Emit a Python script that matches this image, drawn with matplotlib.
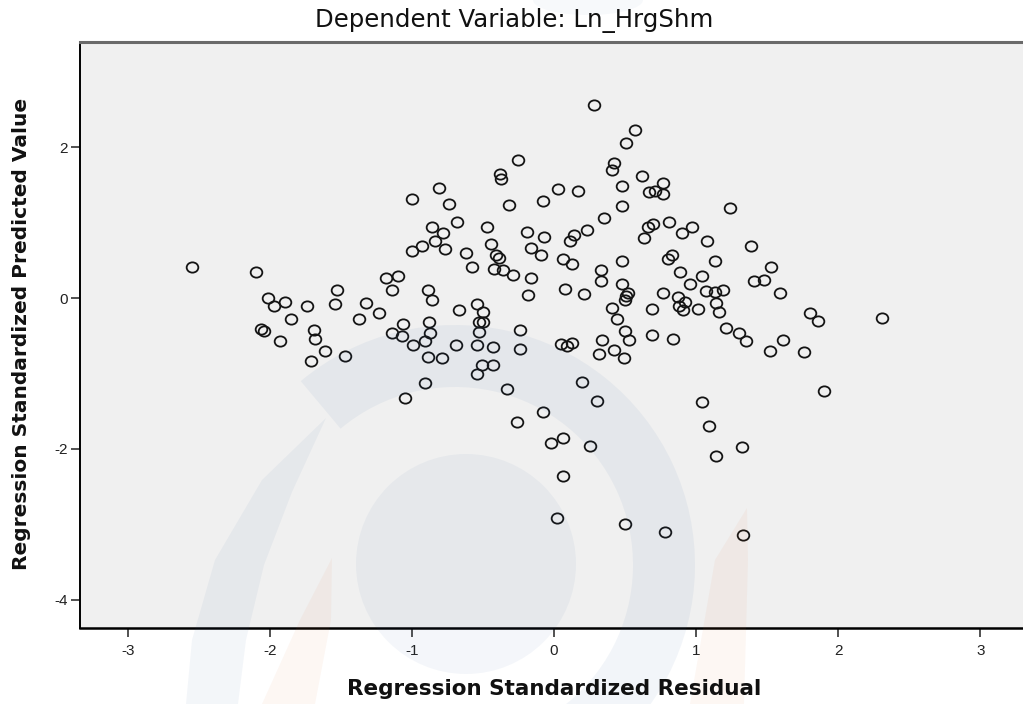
import matplotlib
matplotlib.use("Agg")
import matplotlib.pyplot as plt
import matplotlib.transforms as mtransforms
from matplotlib.path import Path
from matplotlib.patches import Circle, Wedge, Polygon, Ellipse
import numpy as np

plt.rcParams["axes.unicode_minus"] = False

# Regression Standardized Residual (x) / Regression Standardized Predicted Value (y)
resid = [
    -2.55, -2.10, -2.01, -1.97, -1.89, -1.74, -1.85, -2.06, -2.04, -1.93,
    -1.69, -1.68, -1.61, -1.71, -1.47, -1.53, -1.54, -1.32, -1.37, -1.23,
    -1.18, -1.10, -1.14, -1.06, -1.14, -1.07, -1.05, -1.00, -1.00, -0.99,
    -0.93, -0.84, -0.77, -0.89, -0.86, -0.88, -0.87, -0.91, -0.89, -0.79,
    -0.91, -0.81, -0.74, -0.68, -0.86, -0.78,
    0.28, 0.57, 0.51, -0.25, -0.38, -0.37, 0.42, 0.41, 0.62, 0.77,
    0.67, 0.71, 0.77, 0.48, 0.03, 0.17, -0.32, -0.08, 0.48, 1.24,
    0.35, -0.47, -0.19, -0.07, 0.14, 0.11, 0.23, 0.66, 0.70, 0.63,
    0.81, 0.97, 0.90, 1.08, 1.39, -0.62, -0.44, -0.41, -0.39, -0.16,
    -0.09, -0.58, -0.42, -0.36, -0.29, -0.16, 0.06, 0.13, 0.48, 0.33,
    0.33, 0.83, 0.80, 0.89, 1.04, 1.13, 1.53, 1.41, 1.48, 0.96,
    0.08, -0.18, 0.21, 0.48, 0.52, 0.51, 0.50, 0.77, 1.07, 1.13,
    1.19, 1.14, 1.16, 0.87, 0.92, 0.88, 0.91, 1.01, 0.69, 0.41,
    0.44, -0.67, -0.54, -0.50, -0.53, -0.50, -0.53, -0.69, -0.54, -0.43,
    -0.24, -0.24, 0.05, 0.09, 0.13, 0.34, 0.32, 0.50, 0.53, 0.42,
    0.49, 0.69, 0.84, 1.21, 1.30, 1.35, 1.52, -0.51, -0.43,
    1.59, 1.80, 1.86, 2.31, 1.61, 1.76, 1.90, 1.04, 1.09, 1.32,
    1.14, 0.78, 1.33,
    -0.54, -0.33, 0.20, 0.30, -0.08, -0.26, -0.02, 0.06, 0.25, 0.06,
    0.02, 0.50,
]
pred = [
    0.41, 0.34, 0.00, -0.11, -0.05, -0.11, -0.28, -0.41, -0.44, -0.57,
    -0.43, -0.54, -0.70, -0.84, -0.77, 0.11, -0.08, -0.07, -0.28, -0.20,
    0.27, 0.29, 0.10, -0.34, -0.46, -0.50, -1.32, 0.62, 1.31, -0.62,
    0.69, 0.75, 0.65, 0.10, -0.02, -0.32, -0.47, -0.57, -0.78, -0.80,
    -1.13, 1.46, 1.25, 1.01, 0.94, 0.86,
    2.56, 2.23, 2.05, 1.83, 1.64, 1.58, 1.79, 1.69, 1.61, 1.52,
    1.40, 1.42, 1.38, 1.49, 1.45, 1.42, 1.23, 1.29, 1.22, 1.19,
    1.06, 0.94, 0.87, 0.81, 0.83, 0.76, 0.90, 0.94, 0.98, 0.79,
    1.01, 0.94, 0.86, 0.75, 0.69, 0.60, 0.72, 0.57, 0.53, 0.66,
    0.57, 0.41, 0.39, 0.37, 0.30, 0.27, 0.52, 0.45, 0.49, 0.37,
    0.23, 0.57, 0.52, 0.35, 0.29, 0.49, 0.41, 0.22, 0.24, 0.18,
    0.12, 0.04, 0.05, 0.19, 0.07, 0.02, -0.03, 0.06, 0.09, 0.08,
    0.11, -0.06, -0.19, 0.01, -0.05, -0.11, -0.16, -0.15, -0.15, -0.13,
    -0.28, -0.16, -0.08, -0.19, -0.32, -0.32, -0.45, -0.62, -0.62, -0.65,
    -0.43, -0.67, -0.61, -0.63, -0.60, -0.56, -0.74, -0.44, -0.56, -0.69,
    -0.79, -0.49, -0.54, -0.40, -0.46, -0.57, -0.70, -0.89, -0.89,
    0.06, -0.20, -0.30, -0.27, -0.55, -0.71, -1.23, -1.38, -1.70, -1.97,
    -2.09, -3.10, -3.14,
    -1.01, -1.21, -1.11, -1.37, -1.51, -1.64, -1.92, -1.85, -1.96, -2.36,
    -2.92, -3.00,
]
xticks = [-3, -2, -1, 0, 1, 2, 3]
yticks = [-4, -2, 0, 2]

W, H = 1023, 704
fig = plt.figure(figsize=(W / 100, H / 100), dpi=100)
fig.patch.set_facecolor("white")

ax = fig.add_axes([80 / W, (H - 628) / H, (1026 - 80) / W, (628 - 42) / H])
ax.set_facecolor("#f0f0f0")

# open circles, a little wider than tall like the original render
uc = Path.unit_circle()
ell = Path(uc.vertices * np.array([1.0, 0.88]), uc.codes)
ax.plot(resid, pred, linestyle="none", marker=ell, markersize=8.4,
        markerfacecolor="none", markeredgecolor="#141414", markeredgewidth=1.3)

ax.set_xlim(-3.336, 3.322)
ax.set_ylim(-4.371, 3.391)
ax.set_xticks(xticks)
ax.set_yticks(yticks)
ax.tick_params(axis="both", direction="out", length=6.5, width=1.1,
               color="#222222", labelcolor="#222222", labelsize=11)
ax.tick_params(axis="x", pad=5)
ax.tick_params(axis="y", pad=2)
for lab in ax.get_xticklabels() + ax.get_yticklabels():
    lab.set_family("Liberation Sans")

ax.spines["right"].set_visible(False)
ax.spines["left"].set_linewidth(1.4)
ax.spines["bottom"].set_linewidth(1.8)
ax.spines["top"].set_color("#6a6a6a")
ax.spines["top"].set_linewidth(2.2)
for s in ["left", "bottom"]:
    ax.spines[s].set_color("black")

fig.text(514 / W, 1 - 27 / H, "Dependent Variable: Ln_HrgShm", ha="center",
         va="baseline", fontsize=17.6, family="DejaVu Sans", color="#111111")
fig.text(554 / W, 1 - 695 / H, "Regression Standardized Residual", ha="center",
         va="baseline", fontsize=15.5, fontweight="bold", family="DejaVu Sans",
         color="#111111")
fig.text(22 / W, 1 - 334 / H, "Regression Standardized Predicted Value",
         ha="center", va="center", rotation=90, fontsize=14.5,
         fontweight="bold", family="DejaVu Sans", color="#111111")

# faint watermark logo that sits over the picture
pxt = mtransforms.Affine2D().scale(1 / W, -1 / H).translate(0, 1) + fig.transFigure
blue = "#2f5fa0"
orange = "#e0702c"
wm = [
    Circle((466, 564), 110, color=blue, alpha=0.05),
    Wedge((455, 565), 240, -130, 80, width=62, color=blue, alpha=0.06),
    Polygon([(326, 418), (262, 480), (215, 560), (192, 640), (186, 704),
             (238, 704), (246, 640), (264, 565), (292, 492)],
            closed=True, color=blue, alpha=0.055),
    Polygon([(332, 558), (331, 620), (315, 704), (262, 704), (300, 620)],
            closed=True, color=orange, alpha=0.055),
    Polygon([(747, 508), (748, 560), (744, 704), (690, 704), (715, 560)],
            closed=True, color=orange, alpha=0.055),
    Ellipse((588, 0), 110, 30, color=blue, alpha=0.035),
]
for p in wm:
    p.set_transform(pxt)
    p.set_linewidth(0)
    fig.patches.append(p)

fig.savefig("out.png", dpi=100)
